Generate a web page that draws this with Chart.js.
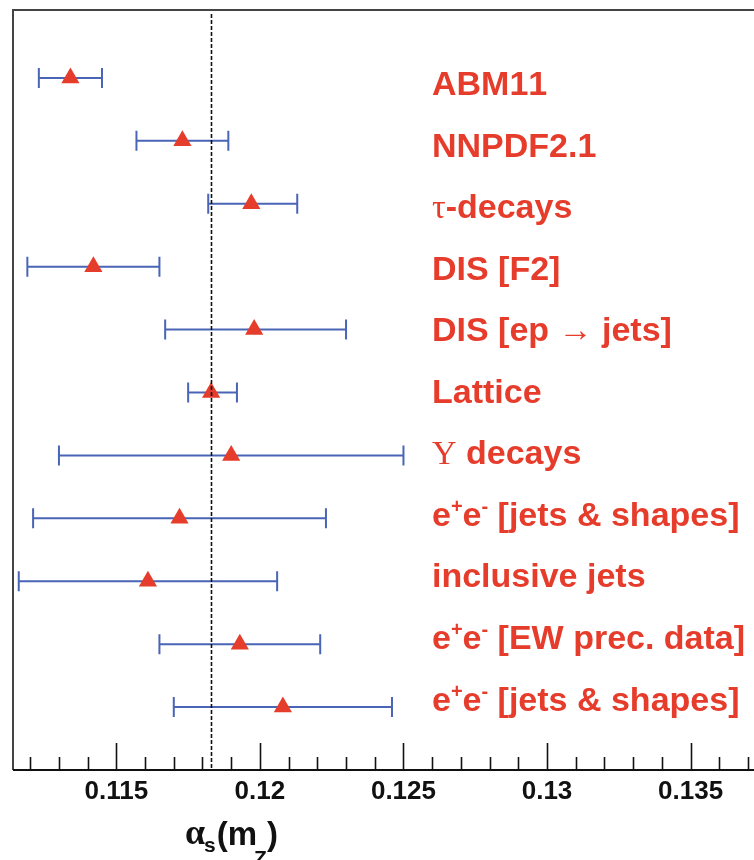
<!DOCTYPE html>
<html>
<head>
<meta charset="utf-8">
<title>alpha_s summary</title>
<script src="https://cdn.jsdelivr.net/npm/chart.js@4.4.1/dist/chart.umd.min.js"></script>
<style>
  html, body { margin: 0; padding: 0; background: #fff; overflow: hidden; }
  #wrap { width: 754px; height: 860px; }
</style>
</head>
<body>
<div id="wrap"><canvas id="alphaChart" width="754" height="860"></canvas></div>
<script>
// ---- data ----
// '^' marks the next character as a superscript
const categories = [
  'ABM11', 'NNPDF2.1', 'τ-decays', 'DIS [F2]', 'DIS [ep → jets]', 'Lattice',
  'Υ decays', 'e^+e^- [jets & shapes]', 'inclusive jets',
  'e^+e^- [EW prec. data]', 'e^+e^- [jets & shapes]'
];
const centralValues = [0.1134, 0.1173, 0.1197, 0.1142, 0.1198, 0.1183, 0.1190, 0.1172, 0.1161, 0.1193, 0.1208];
const lowerEdges    = [0.1123, 0.1157, 0.1182, 0.1119, 0.1167, 0.1175, 0.1130, 0.1121, 0.1116, 0.1165, 0.1170];
const upperEdges    = [0.1145, 0.1189, 0.1213, 0.1165, 0.1230, 0.1192, 0.1250, 0.1223, 0.1206, 0.1221, 0.1246];
const worldAverage = 0.1183;
const xMin = 0.1114;
const xMax = 0.1372;
const tickStep = 0.001;
const labelEvery = 5; // label every 5th tick: 0.115, 0.12, ...

const RED = '#e63c2b';
const BLUE = '#4a64b6';
const SANS = '"Liberation Sans", Arial, Helvetica, sans-serif';
const SERIF = '"Liberation Serif", "Times New Roman", serif';

function isMajor(v) {
  return Math.round(v / tickStep) % labelEvery === 0;
}

// draws a string with ^superscripts; non-latin glyphs in a serif face
function drawRichText(ctx, str, x, y, size) {
  let cx = x;
  for (let i = 0; i < str.length; i++) {
    let ch = str[i];
    if (ch === '^' && i + 1 < str.length) {
      ch = str[++i];
      ctx.font = 'bold ' + Math.round(size * 0.6) + 'px ' + SANS;
      ctx.fillText(ch, cx, y - size * 0.38);
      cx += ctx.measureText(ch).width;
      continue;
    }
    if (ch.charCodeAt(0) > 127) {
      ctx.font = size + 'px ' + SERIF;
    } else {
      ctx.font = 'bold ' + size + 'px ' + SANS;
    }
    ctx.fillText(ch, cx, y);
    cx += ctx.measureText(ch).width;
  }
}

// error bars under the markers, dashed average line over them
const errorBarPlugin = {
  id: 'errorBars',
  beforeDatasetsDraw(chart) {
    const { ctx, scales: { x, y } } = chart;
    ctx.save();
    ctx.strokeStyle = BLUE;
    ctx.lineWidth = 2;
    categories.forEach((_, i) => {
      const py = y.getPixelForValue(i);
      const x0 = x.getPixelForValue(lowerEdges[i]);
      const x1 = x.getPixelForValue(upperEdges[i]);
      ctx.beginPath();
      ctx.moveTo(x0, py); ctx.lineTo(x1, py);
      ctx.moveTo(x0, py - 10); ctx.lineTo(x0, py + 10);
      ctx.moveTo(x1, py - 10); ctx.lineTo(x1, py + 10);
      ctx.stroke();
    });
    ctx.restore();
  },
  afterDatasetsDraw(chart) {
    const { ctx, chartArea: ca, scales: { x } } = chart;
    const px = Math.round(x.getPixelForValue(worldAverage)) + 0.5;
    ctx.save();
    ctx.strokeStyle = '#111';
    ctx.lineWidth = 1.6;
    ctx.setLineDash([4, 2]);
    ctx.beginPath();
    ctx.moveTo(px, ca.top + 4);
    ctx.lineTo(px, ca.bottom);
    ctx.stroke();
    ctx.restore();
  }
};

// frame, inward ticks, row labels and axis title
const framePlugin = {
  id: 'frame',
  afterDraw(chart) {
    const { ctx, chartArea: ca, scales: { x, y } } = chart;
    ctx.save();
    ctx.strokeStyle = '#444';
    ctx.lineWidth = 2;
    ctx.beginPath();
    ctx.moveTo(ca.left, ca.bottom);
    ctx.lineTo(ca.left, ca.top);
    ctx.lineTo(chart.width, ca.top);
    ctx.stroke();

    ctx.strokeStyle = '#111';
    ctx.beginPath();
    ctx.moveTo(ca.left, ca.bottom);
    ctx.lineTo(chart.width, ca.bottom);
    ctx.stroke();

    ctx.lineWidth = 1.6;
    x.ticks.forEach(t => {
      const px = Math.round(x.getPixelForValue(t.value)) + 0.5;
      const len = isMajor(t.value) ? 27 : 13;
      ctx.beginPath();
      ctx.moveTo(px, ca.bottom);
      ctx.lineTo(px, ca.bottom - len);
      ctx.stroke();
    });

    // row labels
    ctx.fillStyle = RED;
    ctx.textBaseline = 'alphabetic';
    ctx.textAlign = 'left';
    categories.forEach((label, i) => {
      const py = y.getPixelForValue(i) + 17 - 1.35 * i;
      drawRichText(ctx, label, 432, py, 34);
    });

    // axis title: alpha_s(m_Z)
    ctx.fillStyle = '#111';
    let cx = 185;
    const base = 845;
    ctx.font = 'bold 36px ' + SERIF;
    ctx.fillText('α', cx, base - 1);
    cx += ctx.measureText('α').width - 1;
    ctx.font = 'bold 21px ' + SANS;
    ctx.fillText('s', cx, base + 7);
    cx += ctx.measureText('s').width + 1;
    ctx.font = 'bold 33px ' + SANS;
    ctx.fillText('(m', cx, base);
    cx += ctx.measureText('(m').width;
    ctx.font = 'bold 21px ' + SANS;
    ctx.fillText('Z', cx - 3, base + 20);
    cx += ctx.measureText('Z').width - 3;
    ctx.font = 'bold 33px ' + SANS;
    ctx.fillText(')', cx, base);
    ctx.restore();
  }
};

new Chart(document.getElementById('alphaChart'), {
  type: 'scatter',
  data: {
    datasets: [{
      data: centralValues.map((v, i) => ({ x: v, y: i })),
      pointStyle: 'triangle',
      pointRadius: 10.5,
      pointHoverRadius: 10.5,
      backgroundColor: RED,
      borderWidth: 0
    }]
  },
  options: {
    responsive: false,
    animation: false,
    devicePixelRatio: 1,
    layout: { autoPadding: false, padding: { left: 13, top: 10, right: 0, bottom: 0 } },
    plugins: { legend: { display: false }, tooltip: { enabled: false } },
    scales: {
      x: {
        type: 'linear',
        min: xMin,
        max: xMax,
        position: 'bottom',
        afterFit: s => { s.height = 90; },
        grid: { display: false, drawTicks: false },
        border: { display: false },
        ticks: {
          stepSize: tickStep,
          includeBounds: false,
          autoSkip: false,
          maxRotation: 0,
          padding: 6,
          color: '#111',
          font: { family: SANS, size: 26, weight: 'bold' },
          callback: v => isMajor(v) ? String(parseFloat(v.toFixed(3))) : ''
        }
      },
      y: {
        type: 'linear',
        reverse: true,
        min: -1.08,
        max: 11.0,
        display: false
      }
    }
  },
  plugins: [errorBarPlugin, framePlugin]
});
</script>
</body>
</html>
